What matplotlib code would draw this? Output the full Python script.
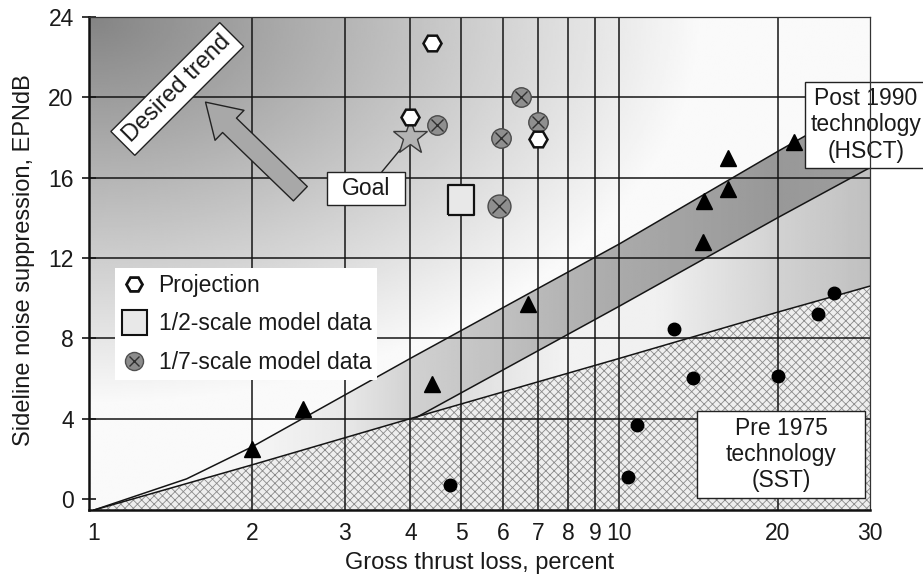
import numpy as np
import matplotlib
matplotlib.use('Agg')
import matplotlib.pyplot as plt
from matplotlib.patches import Polygon, Rectangle, FancyArrowPatch, ArrowStyle
from matplotlib.lines import Line2D
from matplotlib.legend_handler import HandlerTuple
from matplotlib.ticker import FixedLocator, NullLocator

plt.rcParams['font.family'] = ['Liberation Sans', 'DejaVu Sans']
plt.rcParams['hatch.linewidth'] = 0.6

# ---------------- data ----------------
x_ticks = [1, 2, 3, 4, 5, 6, 7, 8, 9, 10, 20, 30]
x_tick_labels = ['1', '2', '3', '4', '5', '6', '7', '8', '9', '10', '20', '30']
y_ticks = [0, 4, 8, 12, 16, 20, 24]
x_grid = [2, 3, 4, 5, 6, 7, 8, 9, 10, 20]
y_grid = [4, 8, 12, 16, 20]

# technology boundary lines
sst_line_x = [1, 2, 4, 10, 20, 30]
sst_line_y = [-0.55, 1.7, 4.0, 7.0, 9.3, 10.6]
hsct_upper_x = [1, 1.5, 2, 4, 10, 20, 30]
hsct_upper_y = [-0.55, 1.0, 2.6, 7.0, 12.7, 17.3, 19.9]
hsct_lower_x = [4.1, 10, 20, 30]
hsct_lower_y = [4.05, 9.6, 14.0, 16.5]

# data points
proj_x = [4.4, 4.0, 7.0]
proj_y = [22.7, 19.0, 17.9]
half_x = [5.0]
half_y = [14.9]
sev_x = [4.5, 6.5, 7.0, 5.95, 5.9]
sev_y = [18.6, 20.0, 18.75, 17.95, 14.6]
goal_x = [4.0]
goal_y = [18.0]
hsct_x = [2.0, 2.5, 4.4, 6.7, 14.4, 14.5, 16.1, 16.1, 21.5]
hsct_y = [2.5, 4.5, 5.7, 9.7, 12.8, 14.85, 15.45, 17.0, 17.8]
sst_x = [4.75, 10.4, 10.8, 12.7, 13.8, 20.0, 23.9, 25.6]
sst_y = [0.7, 1.1, 3.7, 8.45, 6.0, 6.1, 9.2, 10.25]

legend_labels = ['Projection', '1/2-scale model data', '1/7-scale model data']

# ---------------- style ----------------
XMIN, XMAX = 0.978, 30
YMIN, YMAX = -0.55, 24
band_knot_x = [1, 2, 3, 4.1, 6, 10, 20, 30]
band_knot_g = [250, 245, 232, 208, 192, 170, 152, 158]
light_knot_x = [1, 4, 5, 8, 12, 20, 30]
light_knot_g = [250, 208, 222, 242, 240, 210, 192]
TXT = '#1a1a1a'
LN = '#151515'

fig = plt.figure(figsize=(9.23, 5.76), dpi=100)
ax = fig.add_axes([89 / 923, 66 / 576, 781 / 923, 493 / 576])
ax.set_xscale('log')
ax.set_xlim(XMIN, XMAX)
ax.set_ylim(YMIN, YMAX)
ax.set_autoscale_on(False)

# background gradient (dark at top-left)
u = np.linspace(0, 1, 400)
v = np.linspace(0, 1, 300)
U, V = np.meshgrid(u, v)
d = np.sqrt(U ** 2 + (1 - V) ** 2)
bg = np.clip(132 + 150 * d, 0, 250) / 255
ax.imshow(bg, extent=[0, 1, 0, 1], transform=ax.transAxes, origin='lower',
          cmap='gray', vmin=0, vmax=1, aspect='auto', zorder=0,
          interpolation='bilinear')

lx0, lx1 = np.log10(XMIN), np.log10(XMAX)
logx_cols = lx0 + u * (lx1 - lx0)


def hgrad(kx, kg):
    g = np.interp(logx_cols, np.log10(kx), kg) / 255
    return np.tile(g, (2, 1))


# HSCT band polygon (upper line, lower line, SST below branch point)
band_verts = list(zip(hsct_upper_x, hsct_upper_y)) + \
    list(zip(hsct_lower_x[::-1], hsct_lower_y[::-1])) + \
    [(x, y) for x, y in zip(sst_line_x[::-1], sst_line_y[::-1]) if x < hsct_lower_x[0]]
band_poly = Polygon(band_verts, closed=True, transform=ax.transData)
im1 = ax.imshow(hgrad(band_knot_x, band_knot_g), extent=[0, 1, 0, 1],
                transform=ax.transAxes, origin='lower', cmap='gray', vmin=0,
                vmax=1, aspect='auto', zorder=1, interpolation='bilinear')
im1.set_clip_path(band_poly)

# region between lower HSCT and SST
wedge_verts = list(zip(hsct_lower_x, hsct_lower_y)) + \
    [(x, y) for x, y in zip(sst_line_x[::-1], sst_line_y[::-1]) if x >= 4]
wedge_poly = Polygon(wedge_verts, closed=True, transform=ax.transData)
im2 = ax.imshow(hgrad(light_knot_x, light_knot_g), extent=[0, 1, 0, 1],
                transform=ax.transAxes, origin='lower', cmap='gray', vmin=0,
                vmax=1, aspect='auto', zorder=1, interpolation='bilinear')
im2.set_clip_path(wedge_poly)

# hatched SST region
ax.fill_between([XMIN] + sst_line_x, YMIN, [sst_line_y[0]] + sst_line_y,
                facecolor='#eeeeee', edgecolor='#8a8a8a', hatch='xxxx',
                linewidth=0, zorder=1.2)

# grid
for gx in x_grid:
    ax.axvline(gx, color=LN, lw=1.1, zorder=2.5)
for gy in y_grid:
    ax.axhline(gy, color=LN, lw=1.1, zorder=2.5)

# boundary lines
ax.plot(sst_line_x, sst_line_y, color=LN, lw=1.1, zorder=2.6)
ax.plot(hsct_upper_x, hsct_upper_y, color=LN, lw=1.1, zorder=2.6)
ax.plot(hsct_lower_x, hsct_lower_y, color=LN, lw=1.1, zorder=2.6)

# markers
ax.plot(hsct_x, hsct_y, ls='none', marker='^', ms=11.5, color='black', zorder=4)
ax.plot(sst_x, sst_y, ls='none', marker='o', ms=9, color='black', zorder=4)
ax.plot(sev_x[:4], sev_y[:4], ls='none', marker='o', ms=14, mfc='#8f8f8f',
        mec='#4a4a4a', mew=1, zorder=4)
ax.plot(sev_x[:4], sev_y[:4], ls='none', marker='x', ms=8, mec='#303030',
        mew=1, zorder=4.1)
ax.plot(sev_x[4:], sev_y[4:], ls='none', marker='o', ms=16.5, mfc='#8f8f8f',
        mec='#4a4a4a', mew=1, zorder=4)
ax.plot(sev_x[4:], sev_y[4:], ls='none', marker='x', ms=10, mec='#303030',
        mew=1, zorder=4.1)
rect_marker = [(-0.43, -0.5), (0.43, -0.5), (0.43, 0.5), (-0.43, 0.5), (-0.43, -0.5)]
ax.plot(half_x, half_y, ls='none', marker=rect_marker, ms=21, mfc='#e8e8e8',
        mec='#111111', mew=1.6, zorder=4)
ax.plot(goal_x, goal_y, ls='none', marker='*', ms=26, mfc='#b3b3b3',
        mec='#3a3a3a', mew=1, zorder=6.5)
ax.plot(proj_x, proj_y, ls='none', marker='H', ms=13, mfc='white',
        mec='#111111', mew=1.8, zorder=6.6)

# desired trend arrow
arrow = FancyArrowPatch((2.47, 15.2), (1.63, 19.76),
                        arrowstyle=ArrowStyle('Simple', head_length=24,
                                              head_width=30, tail_width=14.4),
                        mutation_scale=1, facecolor='#a8a8a8',
                        edgecolor='#222222', lw=1, shrinkA=0, shrinkB=0,
                        zorder=5)
ax.add_patch(arrow)
ax.text(0.113, 0.854, 'Desired trend', rotation=45, rotation_mode='anchor',
        ha='center', va='center', transform=ax.transAxes, fontsize=17,
        color=TXT, zorder=6,
        bbox=dict(boxstyle='square,pad=0.25', fc='white', ec='#222222', lw=1))

# Goal label
ax.annotate('', xy=(goal_x[0], goal_y[0]), xycoords='data',
            xytext=(0.375, 0.686), textcoords='axes fraction',
            arrowprops=dict(arrowstyle='-', color='#222222', lw=1,
                            shrinkA=0, shrinkB=0), zorder=6)
ax.add_patch(Rectangle((0.305, 0.619), 0.0999, 0.067, transform=ax.transAxes,
                       fc='white', ec='#222222', lw=1, zorder=6.2))
ax.text(0.355, 0.652, 'Goal', transform=ax.transAxes, ha='center',
        va='center', fontsize=16.5, color=TXT, zorder=6.3)

# HSCT label
ax.add_patch(Rectangle((0.917, 0.694), 0.16, 0.174, transform=ax.transAxes,
                       fc='white', ec='#222222', lw=1, zorder=7,
                       clip_on=False))
ax.text(0.995, 0.781, 'Post 1990\ntechnology\n(HSCT)', transform=ax.transAxes,
        ha='center', va='center', fontsize=16.5, color=TXT, zorder=7.1,
        linespacing=1.2, clip_on=False)

# SST label
ax.add_patch(Rectangle((0.778, 0.024), 0.216, 0.177, transform=ax.transAxes,
                       fc='white', ec='#222222', lw=1, zorder=7))
ax.text(0.886, 0.112, 'Pre 1975\ntechnology\n(SST)', transform=ax.transAxes,
        ha='center', va='center', fontsize=16.5, color=TXT, zorder=7.1,
        linespacing=1.17)

# legend
h_proj = Line2D([], [], marker='H', ls='none', ms=11.5, mfc='white',
                mec='#111111', mew=2)
h_half = Line2D([], [], marker='s', ls='none', ms=18, mfc='#e8e8e8',
                mec='#111111', mew=1.5)
h_c = Line2D([], [], marker='o', ls='none', ms=13, mfc='#8c8c8c',
             mec='#505050', mew=1)
h_x = Line2D([], [], marker='x', ls='none', ms=7.5, mec='#303030', mew=1)
leg = ax.legend([h_proj, h_half, (h_c, h_x)], legend_labels,
                handler_map={tuple: HandlerTuple(ndivide=1)},
                loc='upper left', bbox_to_anchor=(0.0333, 0.491),
                borderaxespad=0, frameon=True, framealpha=1, fancybox=False,
                facecolor='white', edgecolor='none', fontsize=16.5,
                borderpad=0.25, handlelength=1.2, handletextpad=0.45,
                labelspacing=0.68, labelcolor=TXT)
leg.set_zorder(5)

# axes / ticks
ax.xaxis.set_major_locator(FixedLocator(x_ticks))
ax.xaxis.set_minor_locator(NullLocator())
ax.set_xticklabels(x_tick_labels)
ax.set_yticks(y_ticks)
ax.tick_params(axis='x', length=0, pad=9, labelsize=16.5, labelcolor=TXT)
ax.tick_params(axis='y', direction='inout', length=10, width=1.2, pad=6,
               labelsize=16.5, labelcolor=TXT, color=LN)
for side in ['left', 'bottom']:
    ax.spines[side].set_linewidth(1.8)
    ax.spines[side].set_color('#111111')
for side in ['top', 'right']:
    ax.spines[side].set_linewidth(0.9)
    ax.spines[side].set_color('#333333')
for s in ax.spines.values():
    s.set_zorder(8)

ax.set_xlabel('Gross thrust loss, percent', fontsize=17, color=TXT)
ax.set_ylabel('Sideline noise suppression, EPNdB', fontsize=17, color=TXT)
ax.xaxis.set_label_coords(0.5, -0.085)
ax.yaxis.set_label_coords(-0.069, 0.507)

fig.savefig('out.png', dpi=100)
